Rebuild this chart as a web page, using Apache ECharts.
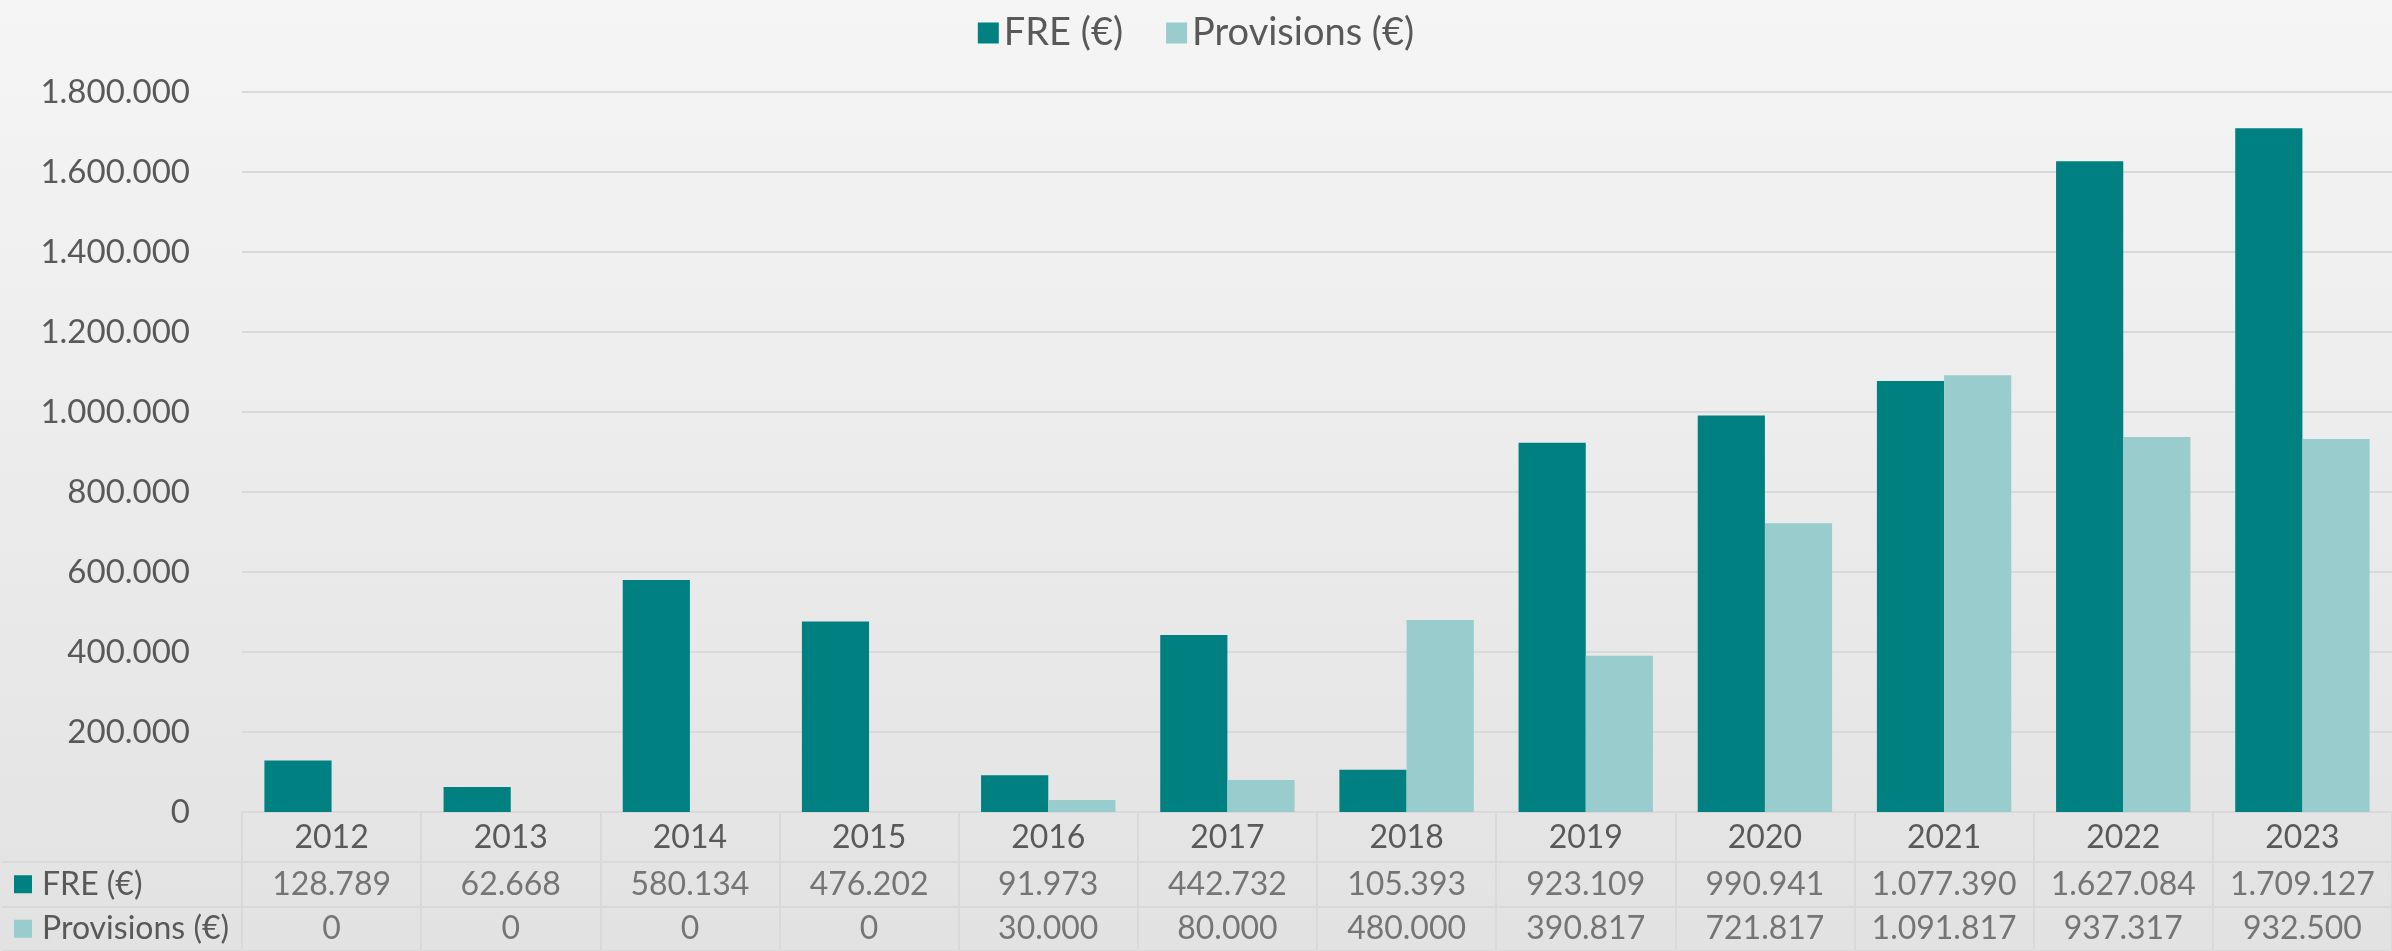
<!DOCTYPE html>
<html>
<head>
<meta charset="utf-8">
<script src="https://cdn.jsdelivr.net/npm/echarts@6/dist/echarts.min.js"></script>
<style>
  html, body { margin: 0; padding: 0; }
  #chart { width: 2392px; height: 951px; }
</style>
</head>
<body>
<div id="chart"></div>
<script>
// data
var years = ['2012', '2013', '2014', '2015', '2016', '2017', '2018', '2019', '2020', '2021', '2022', '2023']
var fre = [128789, 62668, 580134, 476202, 91973, 442732, 105393, 923109, 990941, 1077390, 1627084, 1709127]
var provisions = [0, 0, 0, 0, 30000, 80000, 480000, 390817, 721817, 1091817, 937317, 932500]
var seriesNames = ['FRE (€)', 'Provisions (€)']

var colors = ['#008080', '#99cccc']
var textColor = '#595959'
var lineColor = '#d9d9d9'
var font = 'Lato'

// 1234567 -> 1.234.567
function fmt(v) {
  return String(Math.round(v)).replace(/\B(?=(\d{3})+(?!\d))/g, '.')
}

// cells for the data table under the chart
var tableCells = []
years.forEach(function (y, i) {
  tableCells.push([i, 0, fre[i]])
  tableCells.push([i, 1, provisions[i]])
})

var chart = echarts.init(document.getElementById('chart'))
chart.setOption({
  backgroundColor: {
    type: 'linear', x: 0, y: 0, x2: 0, y2: 1,
    colorStops: [{ offset: 0, color: '#f5f5f5' }, { offset: 1, color: '#e2e2e2' }]
  },
  textStyle: { fontFamily: font },
  legend: {
    data: seriesNames,
    top: 9,
    left: 'center',
    itemWidth: 21,
    itemHeight: 21,
    itemGap: 43,
    icon: 'rect',
    textStyle: { fontSize: 38, color: textColor, fontFamily: font }
  },
  grid: [
    { left: 242, right: 0, top: 92, bottom: 139 },
    { left: 242, right: 0, top: 862, height: 98 }
  ],
  xAxis: [
    {
      type: 'category',
      gridIndex: 0,
      data: years,
      axisLine: { lineStyle: { color: lineColor, width: 2 } },
      axisTick: { show: true, interval: 0, length: 50, lineStyle: { color: lineColor, width: 2 } },
      axisLabel: { fontSize: 32, color: textColor, margin: 10, fontFamily: font }
    },
    {
      type: 'category',
      gridIndex: 1,
      data: years,
      axisLine: { show: false },
      axisTick: { show: false },
      axisLabel: { show: false },
      splitLine: { show: true, interval: 0, lineStyle: { color: lineColor, width: 2 } }
    }
  ],
  yAxis: [
    {
      type: 'value',
      gridIndex: 0,
      min: 0,
      max: 1800000,
      interval: 200000,
      axisLine: { show: false },
      axisTick: { show: false },
      axisLabel: {
        fontSize: 33, color: textColor, margin: 52, fontFamily: font,
        formatter: fmt
      },
      splitLine: { lineStyle: { color: lineColor, width: 2 } }
    },
    {
      type: 'category',
      gridIndex: 1,
      inverse: true,
      data: seriesNames,
      axisLine: { show: true, lineStyle: { color: lineColor, width: 2 } },
      axisTick: { show: true, interval: 0, length: 240, lineStyle: { color: lineColor, width: 2 } },
      splitLine: { show: true, interval: 0, lineStyle: { color: lineColor, width: 2 } },
      axisLabel: {
        align: 'left',
        margin: 228,
        formatter: function (v, i) {
          return '{s' + i + '|}{t|' + v + '}'
        },
        rich: {
          s0: { backgroundColor: colors[0], width: 18, height: 18 },
          s1: { backgroundColor: colors[1], width: 18, height: 18 },
          t: { fontSize: 32, color: textColor, fontFamily: font, padding: [0, 0, 0, 10] }
        }
      }
    }
  ],
  series: [
    {
      name: seriesNames[0],
      type: 'bar',
      data: fre,
      barGap: '0%',
      barCategoryGap: '25%',
      itemStyle: { color: colors[0] }
    },
    {
      name: seriesNames[1],
      type: 'bar',
      data: provisions,
      itemStyle: { color: colors[1] }
    },
    {
      name: 'table',
      type: 'scatter',
      xAxisIndex: 1,
      yAxisIndex: 1,
      data: tableCells,
      symbolSize: 0,
      silent: true,
      label: {
        show: true,
        position: 'inside',
        fontSize: 32,
        color: textColor,
        fontFamily: font,
        formatter: function (p) { return fmt(p.value[2]) }
      }
    }
  ]
})
</script>
</body>
</html>
